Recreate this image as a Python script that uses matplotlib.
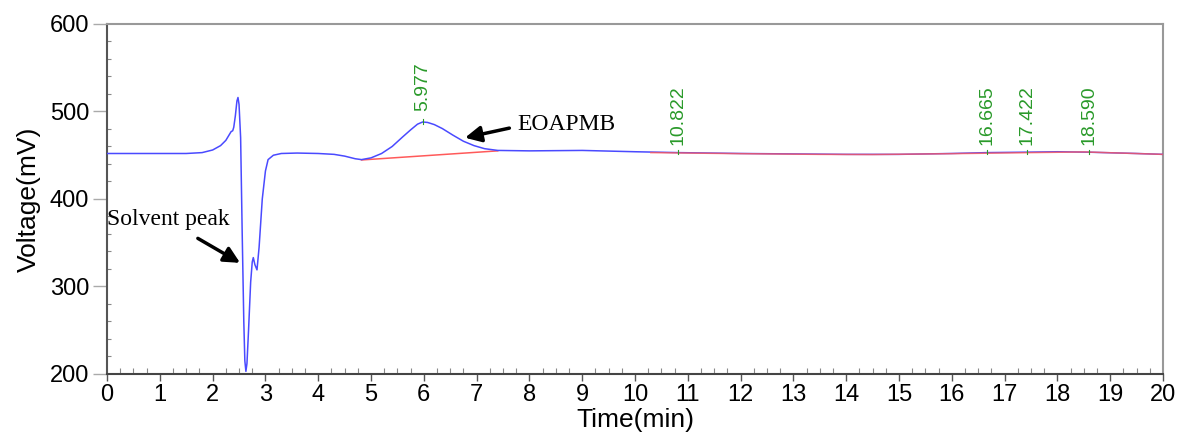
import matplotlib
matplotlib.use("Agg")
import matplotlib.pyplot as plt
from matplotlib.ticker import MultipleLocator

# detector trace (time in min, signal in mV)
time_min = [0, 1.0, 1.5, 1.8, 2.0, 2.15, 2.25, 2.30, 2.35, 2.38, 2.40, 2.43, 2.46, 2.48,
            2.50, 2.53, 2.56, 2.59, 2.61, 2.63, 2.65, 2.68, 2.72, 2.75, 2.77, 2.80,
            2.84, 2.88, 2.94, 3.0, 3.05, 3.15, 3.3, 3.6, 4.0, 4.3, 4.5, 4.7, 4.82,
            5.0, 5.2, 5.4, 5.6, 5.75, 5.88, 5.977, 6.07, 6.2, 6.35, 6.55, 6.75, 6.95,
            7.15, 7.4, 8.0, 9.0, 10.0, 10.822, 12.0, 13.0, 14.0, 15.0, 16.0, 16.665,
            17.422, 18.0, 18.59, 19.5, 20.0]
voltage_mv = [452, 452, 452, 453, 456, 461, 467, 472, 477, 478, 482, 495, 512, 516,
              508, 470, 360, 260, 215, 203, 212, 250, 305, 328, 333, 325,
              319, 345, 400, 432, 445, 450, 452, 452.5, 452, 451, 449, 446, 445,
              447, 452, 460, 471, 479, 485.5, 488, 487.5, 485, 480.5, 473, 466, 461,
              457.5, 455.5, 455, 455.5, 454, 453, 452, 451.5, 451, 451, 452, 453,
              453.5, 454, 453.5, 452, 451]

# integration baselines
base1_t = [4.82, 7.4]
base1_v = [444.6, 455]
base2_t = [10.3, 12.0, 13.5, 14.5, 16.0, 17.5, 18.5, 20.0]
base2_v = [453, 451.8, 451, 450.8, 451.8, 453, 453.8, 451]

# retention times of integrated peaks
peak_rt = [5.977, 10.822, 16.665, 17.422, 18.590]
peak_labels = ["5.977", "10.822", "16.665", "17.422", "18.590"]
peak_height = [488, 453, 453, 453.5, 453.5]
label_base = [501, 462, 462, 462, 462]

fig = plt.figure(figsize=(11.79, 4.37), dpi=100)
ax = fig.add_axes([0.0908, 0.1442, 0.8956, 0.8009])

ax.plot(time_min, voltage_mv, color="#4a4aff", lw=1.1, zorder=3)
ax.plot(base1_t, base1_v, color="#ff5a5a", lw=1.1, zorder=2)
ax.plot(base2_t, base2_v, color="#ff5a5a", lw=1.1, alpha=0.8, zorder=4)

green = "#2a9a2a"
for rt, lab, h, lb in zip(peak_rt, peak_labels, peak_height, label_base):
    ax.plot([rt, rt], [h - 2, h + 3], color=green, lw=0.8, zorder=5)
    ax.text(rt, lb, lab, rotation=90, ha="center", va="bottom", color=green,
            fontsize=14, family="Liberation Sans")

arrow = dict(arrowstyle="-|>", color="black", lw=2.5, mutation_scale=24,
             shrinkA=0, shrinkB=0)
ax.text(0.0, 376, "Solvent peak", fontsize=17, family="Liberation Serif",
        ha="left", va="center")
ax.annotate("", xy=(2.52, 327), xytext=(1.72, 355), arrowprops=arrow)
ax.annotate("", xy=(6.78, 470), xytext=(7.62, 481), arrowprops=arrow)
ax.text(7.77, 485, "EOAPMB", fontsize=17, family="Liberation Serif",
        ha="left", va="center")

ax.set_xlim(0, 20)
ax.set_ylim(200, 600)
ax.xaxis.set_major_locator(MultipleLocator(1))
ax.xaxis.set_minor_locator(MultipleLocator(0.25))
ax.yaxis.set_major_locator(MultipleLocator(100))
ax.yaxis.set_minor_locator(MultipleLocator(20))

ax.tick_params(axis="x", which="major", direction="out", length=5, width=1,
               color="#555555", labelsize=17, pad=2)
ax.tick_params(axis="x", which="minor", direction="in", length=4, width=0.8,
               color="#888888")
ax.tick_params(axis="y", which="major", direction="out", length=10, width=1,
               color="#aaaaaa", labelsize=17, pad=3)
ax.tick_params(axis="y", which="minor", direction="in", length=3, width=0.8,
               color="#888888")
for lbl in ax.get_xticklabels() + ax.get_yticklabels():
    lbl.set_family("Liberation Sans")

ax.spines["left"].set_color("#555555")
ax.spines["bottom"].set_color("#444444")
ax.spines["left"].set_linewidth(1.5)
ax.spines["bottom"].set_linewidth(1.5)
ax.spines["top"].set_color("#999999")
ax.spines["right"].set_color("#999999")
ax.spines["top"].set_linewidth(1.5)
ax.spines["right"].set_linewidth(1.5)

ax.set_xlabel("Time(min)", fontsize=19, family="Liberation Sans", labelpad=2)
ax.set_ylabel("Voltage(mV)", fontsize=19, family="Liberation Sans", labelpad=6)

fig.savefig("out.png", dpi=100)
